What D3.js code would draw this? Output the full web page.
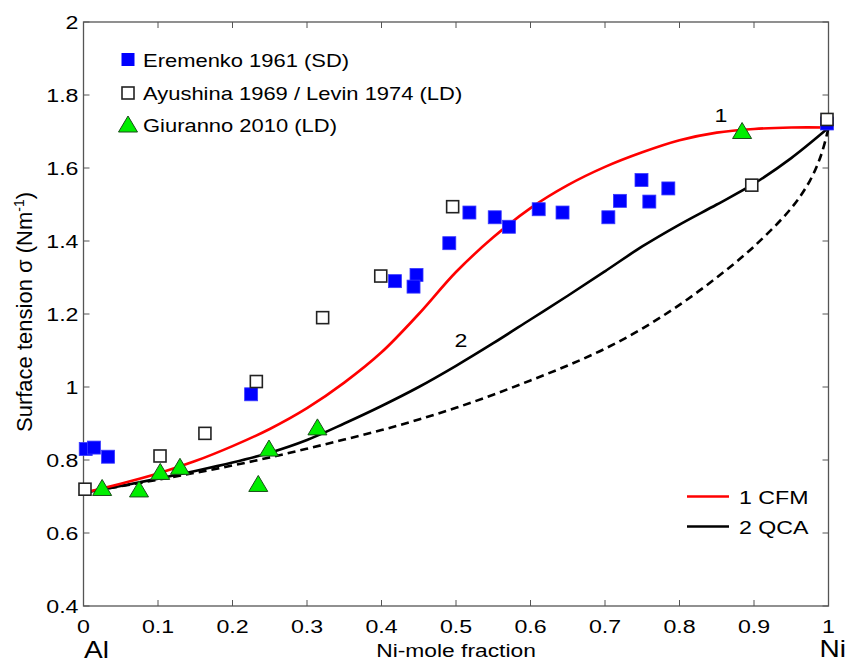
<!DOCTYPE html>
<html><head><meta charset="utf-8">
<script src="https://cdn.jsdelivr.net/npm/d3@7"></script>
<style>body{margin:0;background:#fff;} svg{display:block;font-family:"Liberation Sans",Arial,sans-serif;}</style>
</head><body>
<svg id="c" width="846" height="661"></svg>
<script>
// Data
const eremenko = [[0.003,0.83],[0.014,0.834],[0.033,0.809],[0.225,0.98],[0.418,1.29],[0.447,1.307],[0.443,1.275],[0.491,1.394],[0.518,1.478],[0.552,1.465],[0.571,1.439],[0.611,1.487],[0.643,1.478],[0.7045,1.465],[0.720,1.51],[0.749,1.567],[0.7595,1.508],[0.785,1.544],[0.998,1.722]];
const ayushina = [[0.002,0.72],[0.1027,0.811],[0.163,0.873],[0.232,1.015],[0.321,1.19],[0.399,1.304],[0.4955,1.494],[0.897,1.553],[0.998,1.733]];
const giuranno = [[0.025,0.722],[0.0745,0.718],[0.103,0.766],[0.1295,0.78],[0.2346,0.733],[0.249,0.83],[0.314,0.888],[0.884,1.70]];
const cfm = [[0,0.71],[0.05,0.735],[0.1,0.763],[0.15,0.797],[0.2,0.838],[0.25,0.885],[0.3,0.942],[0.35,1.012],[0.4,1.095],[0.45,1.2],[0.5,1.315],[0.55,1.41],[0.6,1.49],[0.65,1.553],[0.7,1.603],[0.75,1.643],[0.8,1.676],[0.85,1.697],[0.9,1.707],[0.95,1.711],[1,1.711]];
const qca = [[0,0.71],[0.05,0.729],[0.1,0.749],[0.15,0.77],[0.2,0.793],[0.25,0.82],[0.3,0.855],[0.35,0.9],[0.4,0.948],[0.45,1.0],[0.5,1.058],[0.55,1.12],[0.6,1.185],[0.65,1.25],[0.7,1.317],[0.75,1.385],[0.8,1.445],[0.85,1.5],[0.9,1.557],[0.95,1.627],[1,1.71]];
const qcaDashed = [[0,0.71],[0.05,0.728],[0.1,0.746],[0.15,0.765],[0.2,0.785],[0.25,0.807],[0.3,0.831],[0.35,0.856],[0.4,0.882],[0.45,0.911],[0.5,0.943],[0.55,0.979],[0.6,1.018],[0.65,1.059],[0.7,1.105],[0.75,1.16],[0.8,1.225],[0.85,1.3],[0.9,1.385],[0.95,1.49],[0.975,1.565],[0.99,1.635],[1,1.71]];
const xTicks = [0,0.1,0.2,0.3,0.4,0.5,0.6,0.7,0.8,0.9,1];
const yTicks = [0.4,0.6,0.8,1,1.2,1.4,1.6,1.8,2];

const svg = d3.select("#c");
const L=83.5, R=828.5, T=22, B=606;
const x = d3.scaleLinear().domain([0,1]).range([L,R]);
const y = d3.scaleLinear().domain([0.4,2]).range([B,T]);
const axisColor = "#555";
const SX = 1.22; // horizontal text stretch seen in the reference

function txt(parent, px, py, str, size, anchor){
  return parent.append("text").attr("transform",`translate(${px},${py}) scale(${SX},1)`)
    .attr("text-anchor",anchor||"start").attr("font-size",size).attr("fill","#000").text(str);
}

// ticks
const g = svg.append("g");
const tk = 6;
xTicks.forEach(t=>{
  g.append("line").attr("x1",x(t)).attr("x2",x(t)).attr("y1",B).attr("y2",B-tk).attr("stroke",axisColor).attr("stroke-width",1);
  g.append("line").attr("x1",x(t)).attr("x2",x(t)).attr("y1",T).attr("y2",T+tk).attr("stroke",axisColor).attr("stroke-width",1);
  txt(g, x(t), B+27, d3.format("")(t), 19, "middle");
});
yTicks.forEach(t=>{
  g.append("line").attr("x1",L).attr("x2",L+tk).attr("y1",y(t)).attr("y2",y(t)).attr("stroke",axisColor).attr("stroke-width",1);
  g.append("line").attr("x1",R).attr("x2",R-tk).attr("y1",y(t)).attr("y2",y(t)).attr("stroke",axisColor).attr("stroke-width",1);
  txt(g, L-5, y(t)+7, d3.format("")(t), 19, "end");
});
svg.append("rect").attr("x",L).attr("y",T).attr("width",R-L).attr("height",B-T).attr("fill","none").attr("stroke",axisColor).attr("stroke-width",1.3);

// lines
const line = d3.line().x(d=>x(d[0])).y(d=>y(d[1])).curve(d3.curveCatmullRom);
svg.append("path").attr("d",line(qcaDashed)).attr("fill","none").attr("stroke","#000").attr("stroke-width",2.6).attr("stroke-dasharray","8,5");
svg.append("path").attr("d",line(qca)).attr("fill","none").attr("stroke","#000").attr("stroke-width",2.6);
svg.append("path").attr("d",line(cfm)).attr("fill","none").attr("stroke","#ff0000").attr("stroke-width",2.6);

// markers
const s = 13;
svg.append("g").selectAll("rect").data(eremenko).join("rect")
  .attr("x",d=>x(d[0])-s/2).attr("y",d=>y(d[1])-s/2).attr("width",s).attr("height",s)
  .attr("fill","#0000ff").attr("stroke","#3a3aff").attr("stroke-width",0.8);
svg.append("g").selectAll("rect").data(ayushina).join("rect")
  .attr("x",d=>x(d[0])-s/2+0.5).attr("y",d=>y(d[1])-s/2+0.5).attr("width",s-1).attr("height",s-1)
  .attr("fill","#fff").attr("stroke","#222").attr("stroke-width",1.6);
const tri = (cx,cy)=>`M${cx},${cy-9}L${cx+9.5},${cy+7}L${cx-9.5},${cy+7}Z`;
svg.append("g").selectAll("path").data(giuranno).join("path")
  .attr("d",d=>tri(x(d[0]),y(d[1]))).attr("fill","#00ee00").attr("stroke","#1a4d1a").attr("stroke-width",1);

// curve labels
txt(svg, 721, 122, "1", 19, "middle");
txt(svg, 461, 347, "2", 19, "middle");

// legend top-left
const lg = svg.append("g");
const legItems = [
  {label:"Eremenko 1961 (SD)", type:"filled", cy:59.5},
  {label:"Ayushina 1969 / Levin 1974 (LD)", type:"open", cy:93},
  {label:"Giuranno 2010 (LD)", type:"tri", cy:125}
];
legItems.forEach(it=>{
  const cx = 128;
  if(it.type==="filled") lg.append("rect").attr("x",cx-6.5).attr("y",it.cy-6.5).attr("width",13).attr("height",13).attr("fill","#0000ff");
  else if(it.type==="open") lg.append("rect").attr("x",cx-6).attr("y",it.cy-6).attr("width",12).attr("height",12).attr("fill","#fff").attr("stroke","#222").attr("stroke-width",1.6);
  else lg.append("path").attr("d",tri(cx,it.cy)).attr("fill","#00ee00").attr("stroke","#1a4d1a").attr("stroke-width",1);
  txt(lg, 143, it.cy+7, it.label, 18);
});

// legend bottom-right
[{label:"1 CFM", color:"#ff0000", cy:496.5},{label:"2 QCA", color:"#000", cy:526.5}].forEach(it=>{
  svg.append("line").attr("x1",687).attr("x2",729).attr("y1",it.cy).attr("y2",it.cy).attr("stroke",it.color).attr("stroke-width",2.6);
  txt(svg, 739, it.cy+7, it.label, 19);
});

// axis titles
txt(svg, 456, 657, "Ni-mole fraction", 18.7, "middle");
txt(svg, 84, 658, "Al", 23);
txt(svg, 846, 657, "Ni", 23, "end");
const yt = svg.append("text").attr("transform","translate(32,312) rotate(-90)").attr("text-anchor","middle").attr("font-size",22);
yt.append("tspan").text("Surface tension σ (Nm");
yt.append("tspan").attr("dy",-8).attr("font-size",14).text("-1");
yt.append("tspan").attr("dy",8).text(")");
</script>
</body></html>
